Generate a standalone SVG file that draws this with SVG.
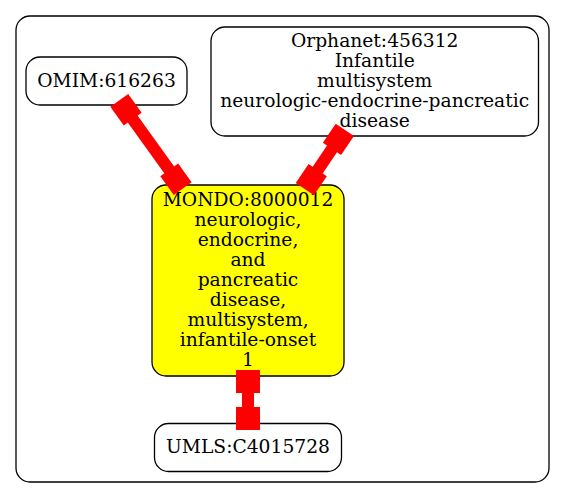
<svg xmlns="http://www.w3.org/2000/svg" width="565" height="499" viewBox="0 0 565 499">
<style>
.node rect{fill:#fff;stroke:#000;stroke-width:1.3}
#mondo rect{fill:#ffff00}
text{font-family:"DejaVu Serif","Liberation Serif",serif;font-size:18.7px;text-anchor:middle;fill:#000}
.edge line{stroke:#ff0000;stroke-width:12}
.edge rect{fill:#ff0000}
</style>
<rect id="cluster" x="16" y="16" width="533" height="466" rx="14" fill="#fff" stroke="#000" stroke-width="1.3"/>
<g id="omim" class="node">
<rect x="26" y="57" width="161" height="48" rx="14"/>
<text x="106.5" y="86.5">OMIM:616263</text>
</g>
<g id="orphanet" class="node">
<rect x="211" y="27" width="327.5" height="109" rx="14"/>
<text x="374.7" y="47">Orphanet:456312</text>
<text x="374.7" y="67">Infantile</text>
<text x="374.7" y="87">multisystem</text>
<text x="374.7" y="107">neurologic-endocrine-pancreatic</text>
<text x="374.7" y="127">disease</text>
</g>
<g id="mondo" class="node">
<rect x="152" y="185" width="192" height="191" rx="14"/>
<text x="248" y="206">MONDO:8000012</text>
<text x="248" y="226">neurologic,</text>
<text x="248" y="246">endocrine,</text>
<text x="248" y="266">and</text>
<text x="248" y="286">pancreatic</text>
<text x="248" y="306">disease,</text>
<text x="248" y="326">multisystem,</text>
<text x="248" y="346">infantile-onset</text>
<text x="248" y="366">1</text>
</g>
<g id="umls" class="node">
<rect x="154.5" y="423.5" width="187" height="48" rx="14"/>
<text x="248" y="453">UMLS:C4015728</text>
</g>
<g id="edges">
<g class="edge" transform="translate(126,109.75) rotate(54.3)">
<line x1="0" y1="0" x2="85.6" y2="0"/>
<rect x="-11.5" y="-11" width="23" height="22"/>
<rect x="74.1" y="-11" width="23" height="22"/>
</g>
<g class="edge" transform="translate(338.4,139.4) rotate(124)">
<line x1="0" y1="0" x2="48.5" y2="0"/>
<rect x="-11.5" y="-11" width="23" height="22"/>
<rect x="37" y="-11" width="23" height="22"/>
</g>
<g class="edge" transform="translate(248,381.5) rotate(90)">
<line x1="0" y1="0" x2="37" y2="0"/>
<rect x="-11.5" y="-12" width="23" height="24"/>
<rect x="25.5" y="-12" width="23" height="24"/>
</g>
</g>
</svg>
